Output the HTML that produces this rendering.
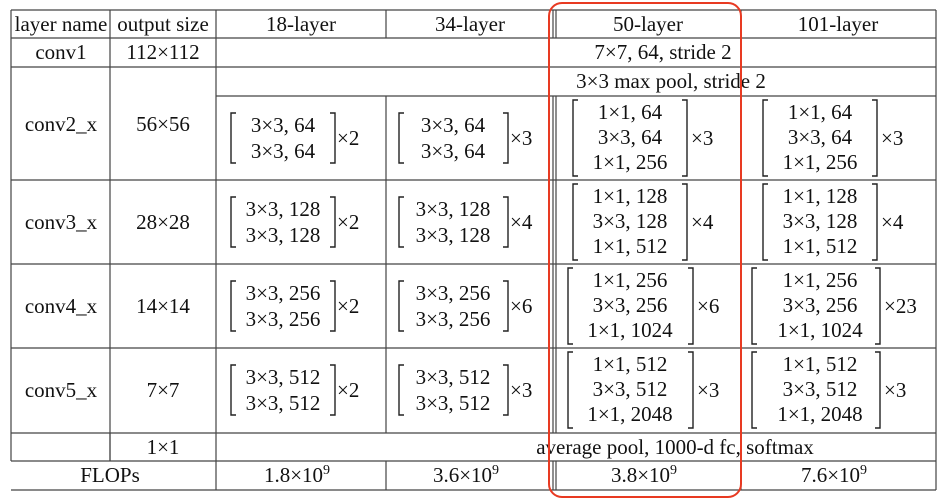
<!DOCTYPE html>
<html><head><meta charset="utf-8"><style>
html,body{margin:0;padding:0;background:#fff;width:937px;height:504px;overflow:hidden}
svg text{font-family:"Liberation Serif",serif;font-size:21px;fill:#111}
</style></head><body>
<svg id="t" width="937" height="504" viewBox="0 0 937 504" xmlns="http://www.w3.org/2000/svg">
<g id="lines" stroke="#444" stroke-width="1.2" fill="none"></g>
<g id="txt" text-anchor="middle"></g>
<g id="br" stroke="#222" stroke-width="1.4" fill="none"></g>
<rect x="549" y="3" width="192" height="494" rx="13" fill="none" stroke="#e83a22" stroke-width="2"/>
</svg>
<script>
const headers = ["layer name","output size","18-layer","34-layer","50-layer","101-layer"];
const headerX = [61,163,301,470,648,838];
const stages = ["conv2_x","conv3_x","conv4_x","conv5_x"];
const outSizes = ["56×56","28×28","14×14","7×7"];
const channels = [64,128,256,512];
const repeats18 = [2,2,2,2];
const repeats34 = [3,4,6,3];
const repeats50 = [3,4,6,3];
const repeats101 = [3,4,23,3];
const flops = ["1.8","3.6","3.8","7.6"];
const rowCenters = [138,222,306,390];
const labelCenters = [124,222,306,390];
const NS="http://www.w3.org/2000/svg";
const L=document.getElementById('lines'),T=document.getElementById('txt'),B=document.getElementById('br');
function line(x1,y1,x2,y2){const e=document.createElementNS(NS,'line');e.setAttribute('x1',x1);e.setAttribute('y1',y1);e.setAttribute('x2',x2);e.setAttribute('y2',y2);


L.appendChild(e);}
function text(s,x,y,name,anchor){const e=document.createElementNS(NS,'text');e.setAttribute('x',x);e.setAttribute('y',y+7);if(anchor)e.setAttribute('text-anchor',anchor);e.textContent=s;


T.appendChild(e);return e;}
function bracket(x,y1,y2,dir){const e=document.createElementNS(NS,'path');e.setAttribute('d',`M${x+5*dir} ${y1}H${x}V${y2}H${x+5*dir}`);


B.appendChild(e);}
[10,38,67,180,264,348,461,490].forEach(y=>line(11,y,936,y));
line(216,96,936,96);line(11,433,936,433);
[11,110].forEach(x=>{line(x,10,x,461)});
line(216,10,216,490);
[386,553,741].forEach(x=>{line(x,10,x,38);line(x,96,x,433);line(x,461,x,490);});
line(556,10,556,38);line(556,96,556,433);line(556,461,556,490);
line(936,10,936,490);line(110,461,110,433);
headers.forEach((h,i)=>text(h,headerX[i],24,'header-'+h.replace(/\s/g,'-')));
text('conv1',61,52,'conv1-label');text('112×112',163,52,'conv1-output');
text('7×7, 64, stride 2',663,52,'conv1-spec');
text('3×3 max pool, stride 2',671,81,'maxpool-spec');
text('1×1',163,447,'fc-output');
text('average pool, 1000-d fc, softmax',675,447,'fc-spec');
text('FLOPs',110,475,'flops-label');
const flopX=[301,470,648,838];
flops.forEach((f,i)=>{const e=text(f+'×10',flopX[i]-4,475,'flops-value');const s=document.createElementNS(NS,'tspan');s.setAttribute('dy','-8');s.setAttribute('font-size','14');s.textContent='9';e.appendChild(s);});
stages.forEach((s,r)=>{
 const cy=rowCenters[r],c=channels[r];
 text(s,61,labelCenters[r],'stage-label-'+s);text(outSizes[r],163,labelCenters[r],'output-size-'+s);
 [[283,repeats18[r],231,335],[453,repeats34[r],399,508]].forEach(([cx,n,lx,rx])=>{
  text(`3×3, ${c}`,cx,cy-13,'basic-block-row');text(`3×3, ${c}`,cx,cy+13,'basic-block-row');
  bracket(lx,cy-25,cy+25,1);bracket(rx,cy-25,cy+25,-1);
  text('×'+n,rx+2,cy,'repeat-count','start');
 });
 const wide=c>=256;
 [[630,repeats50[r],wide?568:573,wide?693:687],[820,repeats101[r],wide?752:763,wide?880:877]].forEach(([cx,n,lx,rx])=>{
  text(`1×1, ${c}`,cx,cy-26,'bottleneck-row');text(`3×3, ${c}`,cx,cy-1,'bottleneck-row');text(`1×1, ${c*4}`,cx,cy+24,'bottleneck-row');
  bracket(lx,cy-38,cy+38,1);bracket(rx,cy-38,cy+38,-1);
  text('×'+n,rx+4,cy,'repeat-count','start');
 });
});
</script>
</body></html>
